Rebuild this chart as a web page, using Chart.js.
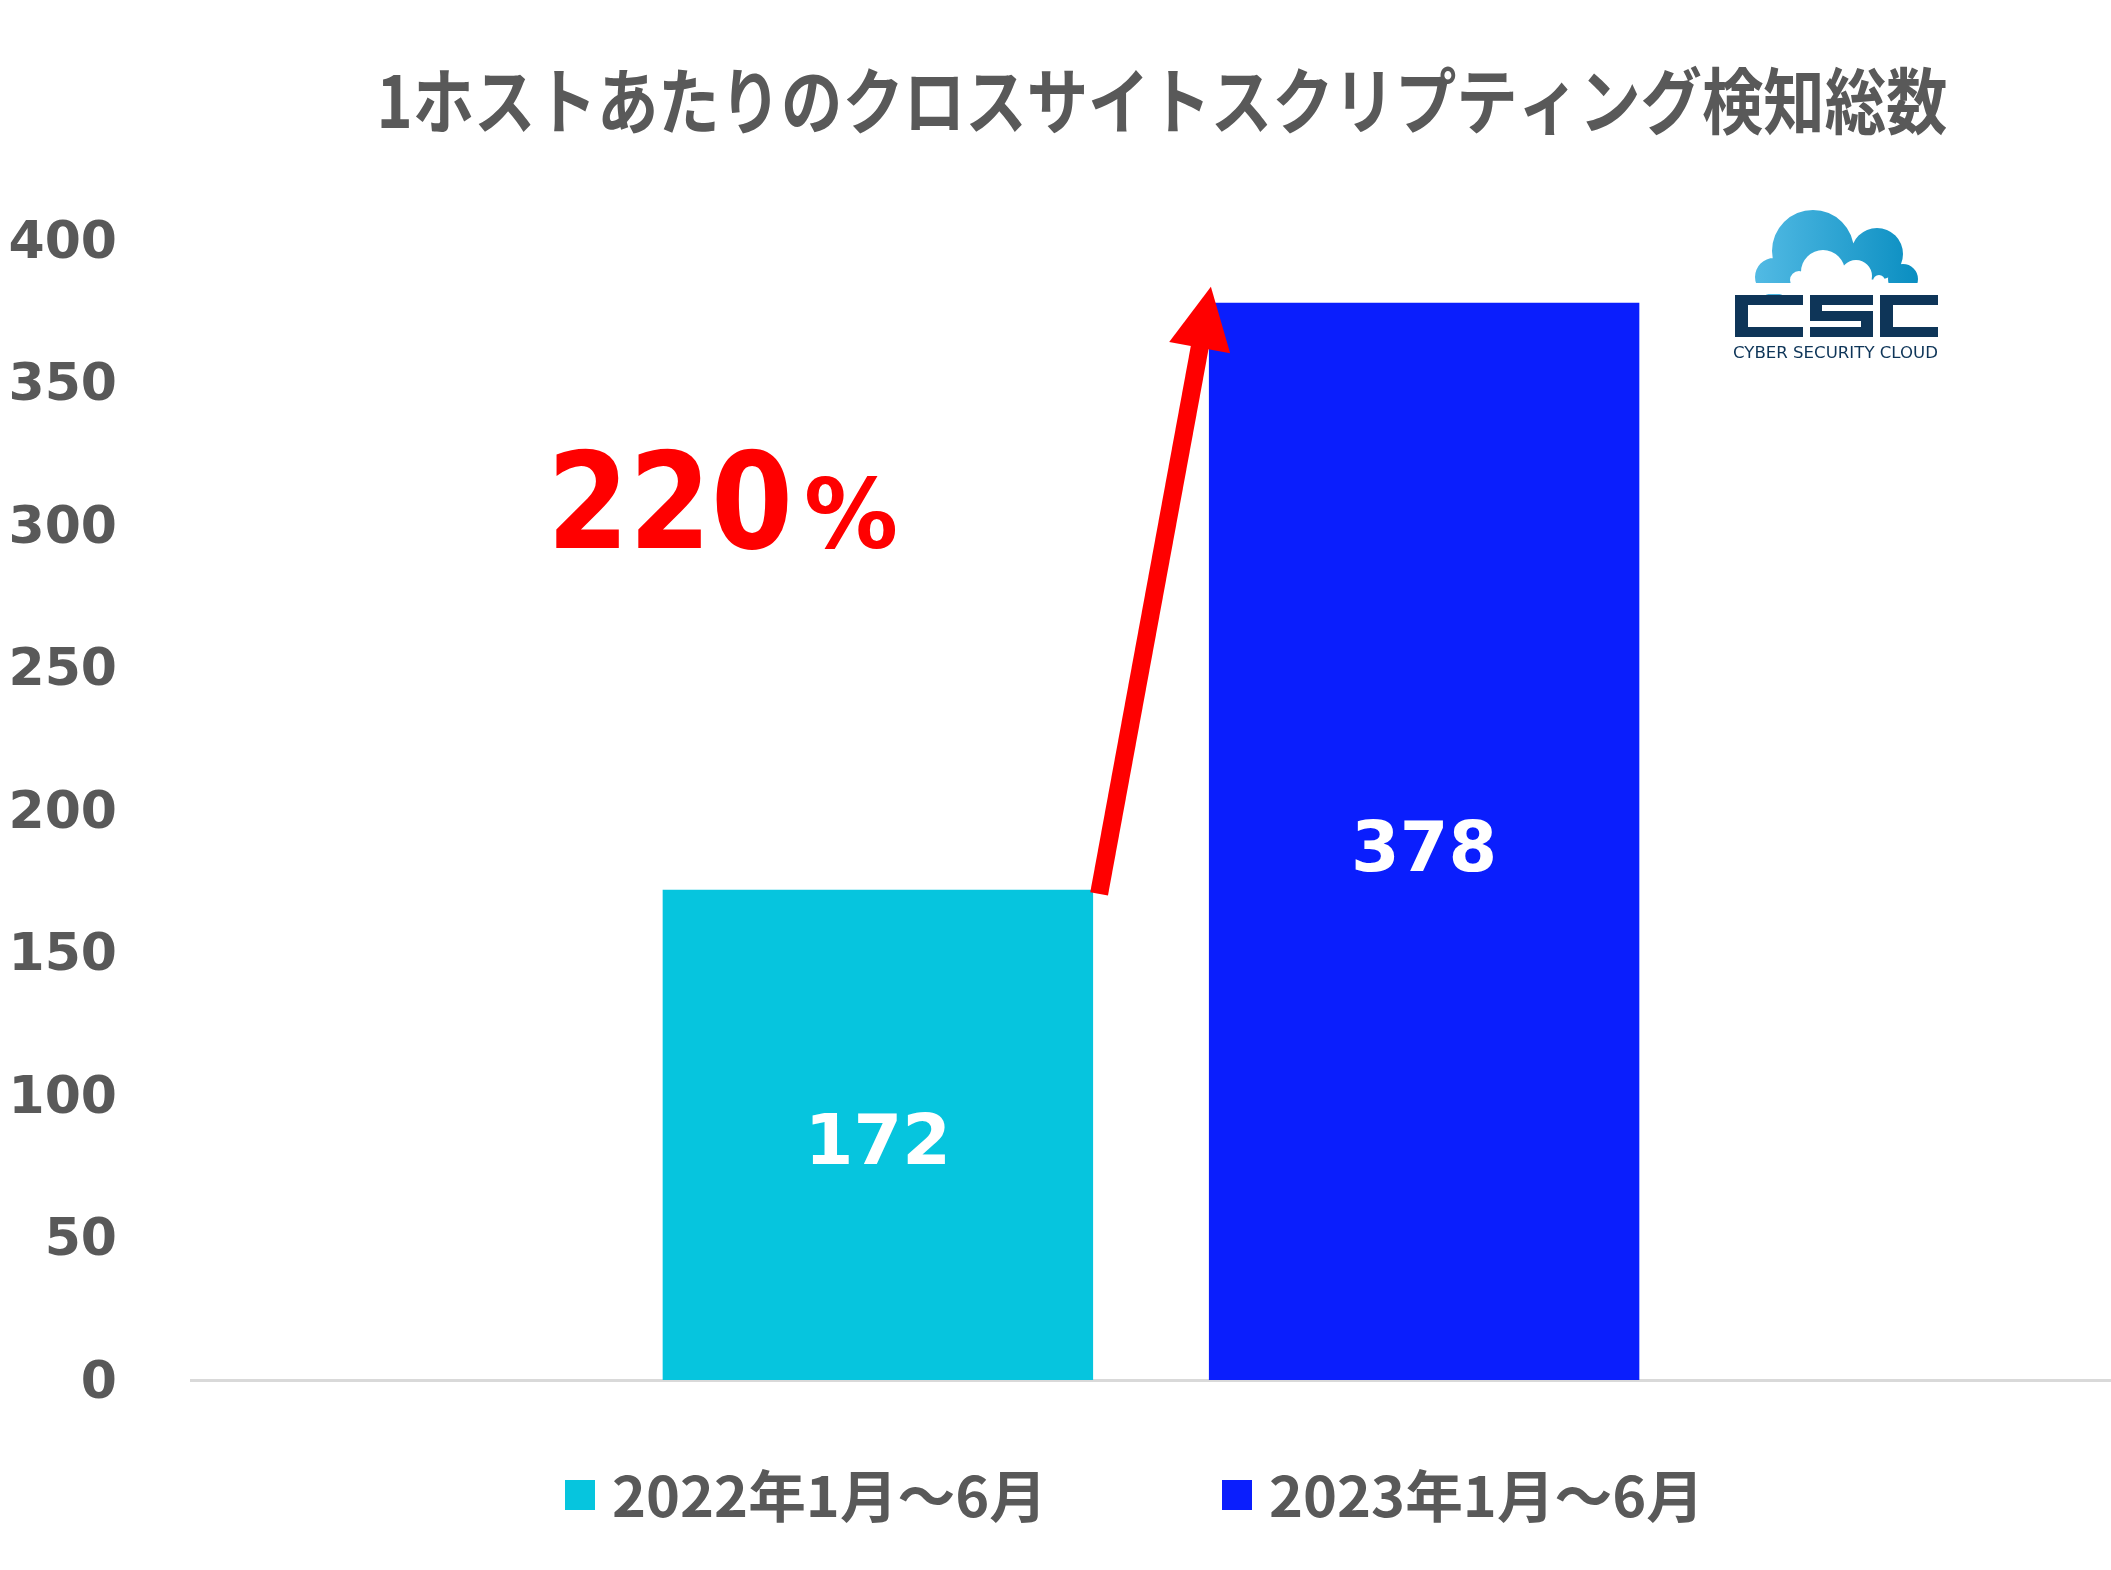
<!DOCTYPE html>
<html>
<head>
<meta charset="utf-8">
<script src="https://cdn.jsdelivr.net/npm/chart.js@4/dist/chart.umd.min.js"></script>
<style>
  html, body { margin: 0; padding: 0; background: #fff; }
  canvas { display: block; }
</style>
</head>
<body>
<canvas id="c" width="2111" height="1570" style="width:2111px;height:1570px"></canvas>
<script>
const TITLE = '1ホストあたりのクロスサイトスクリプティング検知総数';
const CATEGORIES = [''];
const SERIES_LABELS = ['2022年1月〜6月', '2023年1月〜6月'];
const SERIES_VALUES = [[172], [378]];
const SERIES_COLORS = ['#06C5DE', '#0A1EFD'];
const Y_MIN = 0;
const Y_MAX = 400;
const Y_STEP = 50;
const GROWTH_TEXT = '220';
const LOGO_NAME = 'CYBER SECURITY CLOUD';

const GREY = '#595959';
const NAVY = '#0E3558';

// draw text squeezed/stretched to a given width
function fitText(ctx, text, x, y, width, align) {
  const w = ctx.measureText(text).width;
  ctx.save();
  ctx.translate(x, y);
  ctx.scale(width / w, 1);
  ctx.textAlign = align;
  ctx.fillText(text, 0, 0);
  ctx.restore();
}

function drawLogo(ctx) {
  ctx.save();
  const g = ctx.createLinearGradient(1755, 0, 1918, 0);
  g.addColorStop(0, '#52BAE4');
  g.addColorStop(1, '#0A8EC1');
  ctx.fillStyle = g;
  ctx.beginPath();
  [[1813, 251, 41], [1877, 254, 26], [1774, 277, 19], [1903, 279, 15]].forEach(([x, y, r]) => {
    ctx.moveTo(x + r, y);
    ctx.arc(x, y, r, 0, Math.PI * 2);
  });
  ctx.fill();
  ctx.fillStyle = '#fff';
  ctx.beginPath();
  [[1823, 272, 22], [1856, 276, 16], [1799, 280, 9], [1879, 281, 6]].forEach(([x, y, r]) => {
    ctx.moveTo(x + r, y);
    ctx.arc(x, y, r, 0, Math.PI * 2);
  });
  ctx.fill();
  ctx.fillRect(1740, 283, 210, 11);

  ctx.fillStyle = NAVY;
  // C
  ctx.fillRect(1735, 295, 68, 10);
  ctx.fillRect(1735, 295, 13, 42);
  ctx.fillRect(1735, 327, 68, 10);
  // S
  ctx.fillRect(1810, 295, 63, 10);
  ctx.fillRect(1810, 295, 12, 26);
  ctx.fillRect(1810, 311, 63, 10);
  ctx.fillRect(1861, 311, 12, 26);
  ctx.fillRect(1810, 327, 63, 10);
  // C
  ctx.fillRect(1880, 295, 58, 10);
  ctx.fillRect(1880, 295, 13, 42);
  ctx.fillRect(1880, 327, 58, 10);

  ctx.font = '500 15px "DejaVu Sans"';
  ctx.textBaseline = 'middle';
  fitText(ctx, LOGO_NAME, 1733, 354, 205, 'left');
  ctx.restore();
}

const decor = {
  id: 'decor',
  afterDatasetsDraw(chart) {
    const ctx = chart.ctx;
    const a = chart.getDatasetMeta(0).data[0];
    const b = chart.getDatasetMeta(1).data[0];

    // value labels in the middle of each bar
    ctx.save();
    ctx.fillStyle = '#fff';
    ctx.font = 'bold 70px "DejaVu Sans"';
    ctx.textAlign = 'center';
    ctx.textBaseline = 'middle';
    chart.data.datasets.forEach((ds, i) => {
      const bar = chart.getDatasetMeta(i).data[0];
      ctx.fillText(String(ds.data[0]), bar.x, (bar.y + bar.base) / 2 + 11);
    });
    ctx.restore();

    // red growth arrow from bar 1 top to bar 2 top
    const x0 = a.x + a.width / 2 + 6, y0 = a.y + 4;
    const x1 = b.x - b.width / 2 + 2, y1 = b.y - 16;
    const len = Math.hypot(x1 - x0, y1 - y0);
    const ux = (x1 - x0) / len, uy = (y1 - y0) / len;
    const nx = -uy, ny = ux;
    const headLen = 62, headHalf = 31;
    const hx = x1 - ux * headLen, hy = y1 - uy * headLen;
    ctx.save();
    ctx.strokeStyle = '#FF0000';
    ctx.fillStyle = '#FF0000';
    ctx.lineWidth = 18;
    ctx.lineCap = 'butt';
    ctx.beginPath();
    ctx.moveTo(x0, y0);
    ctx.lineTo(hx + ux * 4, hy + uy * 4);
    ctx.stroke();
    ctx.beginPath();
    ctx.moveTo(x1, y1);
    ctx.lineTo(hx + nx * headHalf, hy + ny * headHalf);
    ctx.lineTo(hx - nx * headHalf, hy - ny * headHalf);
    ctx.closePath();
    ctx.fill();

    ctx.textBaseline = 'alphabetic';
    ctx.font = 'bold 134px "DejaVu Sans"';
    fitText(ctx, GROWTH_TEXT, 547, 548, 246, 'left');
    ctx.font = 'bold 96px "DejaVu Sans"';
    fitText(ctx, '%', 804, 548, 94, 'left');
    ctx.restore();
  },
  afterDraw(chart) {
    const ctx = chart.ctx;
    ctx.save();
    ctx.fillStyle = GREY;
    ctx.textBaseline = 'middle';
    ctx.font = 'bold 72px "Noto Sans CJK JP"';
    fitText(ctx, TITLE, 1162, 101, 1571, 'center');

    // legend
    const boxX = [565, 1222];
    ctx.font = 'bold 56px "Noto Sans CJK JP"';
    chart.data.datasets.forEach((ds, i) => {
      ctx.fillStyle = ds.backgroundColor;
      ctx.fillRect(boxX[i], 1480, 30, 30);
      ctx.fillStyle = GREY;
      fitText(ctx, ds.label, boxX[i] + 47, 1496, 435, 'left');
    });
    ctx.restore();

    drawLogo(ctx);
  }
};

new Chart(document.getElementById('c'), {
  type: 'bar',
  data: {
    labels: CATEGORIES,
    datasets: SERIES_LABELS.map((label, i) => ({
      label,
      data: SERIES_VALUES[i],
      backgroundColor: SERIES_COLORS[i],
      categoryPercentage: 0.569,
      barPercentage: 0.788
    }))
  },
  options: {
    responsive: false,
    animation: false,
    layout: { padding: { top: 240, left: 0, right: 0, bottom: 190 } },
    plugins: {
      legend: { display: false },
      title: { display: false },
      tooltip: { enabled: false }
    },
    scales: {
      x: {
        grid: { display: false, drawTicks: false },
        ticks: { display: false },
        border: { color: '#D9D9D9', width: 3 }
      },
      y: {
        min: Y_MIN,
        max: Y_MAX,
        ticks: {
          stepSize: Y_STEP,
          color: GREY,
          padding: 74,
          labelOffset: 4,
          font: { family: 'DejaVu Sans', weight: 'bold', size: 52 }
        },
        grid: { display: false, drawTicks: false },
        border: { display: false },
        afterFit: (s) => { s.width = 191; }
      }
    }
  },
  plugins: [decor]
});
</script>
</body>
</html>
